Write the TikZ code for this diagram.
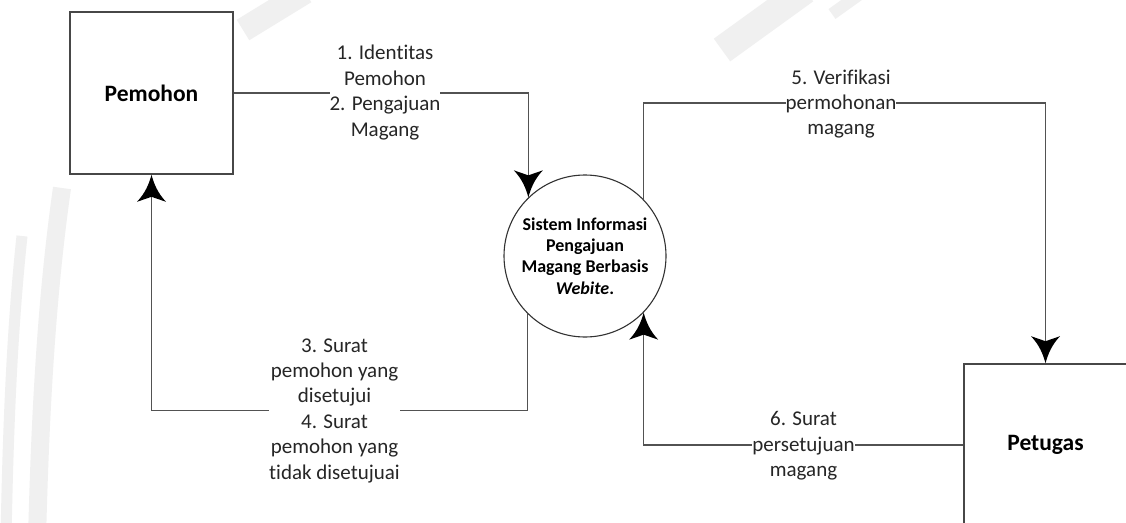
\documentclass[tikz,border=0pt]{standalone}
\usepackage{fontspec}
\setmainfont{Carlito}[Ligatures=NoCommon]
\usetikzlibrary{arrows.meta}

% Arrow head with slightly concave flanks and a notched back
\pgfdeclarearrow{
  name = DfdHead,
  setup code = {
    \pgfarrowssettipend{0pt}
    \pgfarrowssetlineend{-18pt}
    \pgfarrowssetbackend{-27pt}
    \pgfarrowsupperhullpoint{0pt}{0pt}
    \pgfarrowsupperhullpoint{-27pt}{14.5pt}
  },
  drawing code = {
    \pgfpathmoveto{\pgfqpoint{0pt}{0pt}}
    \pgfpathcurveto{\pgfqpoint{-9pt}{2.5pt}}{\pgfqpoint{-18pt}{6pt}}{\pgfqpoint{-27pt}{14.5pt}}
    \pgfpathlineto{\pgfqpoint{-22pt}{0pt}}
    \pgfpathlineto{\pgfqpoint{-27pt}{-14.5pt}}
    \pgfpathcurveto{\pgfqpoint{-18pt}{-6pt}}{\pgfqpoint{-9pt}{-2.5pt}}{\pgfqpoint{0pt}{0pt}}
    \pgfpathclose
    \pgfusepathqfill
  },
}

\tikzset{
  entity/.style={draw=black!72, line width=1.6pt, minimum width=163pt,
    minimum height=162pt, inner sep=0pt,
    font=\fontsize{23.5}{28}\selectfont\bfseries, text=black},
  process/.style={circle, draw=black!80, line width=1.1pt, minimum size=162pt,
    inner sep=0pt, align=center,
    font=\fontsize{18}{21.3}\selectfont\bfseries, text=black},
  flow/.style={draw=black!68, line width=1.4pt, -{DfdHead[color=black]}},
  flowlabel/.style={fill=white, inner xsep=0pt, inner ysep=1pt, align=center,
    font=\fontsize{21}{25.4}\selectfont, text=black!85},
  wmark/.style={draw=black!6, line cap=butt},
}

\begin{document}
\begin{tikzpicture}[x=1pt, y=-1pt]
  \useasboundingbox (0,0) rectangle (1126,522);
  \clip (0,0) rectangle (1126,522);
  \fill[white] (0,0) rectangle (1126,522);

  % faint shield watermark behind the diagram
  \draw[wmark, line width=18pt] (62,188) .. controls (46,300) and (40,420) .. (37,540);
  \draw[wmark, line width=11pt] (22,236) .. controls (12,330) and (8,430) .. (6,540);
  \draw[wmark, line width=24pt] (305,-8) -- (243,30);
  \draw[wmark, line width=28pt] (805,-10) -- (722,50);
  \draw[wmark, line width=12pt] (860,-6) -- (832,14);

  % external entities and the process
  \node[entity] (pemohon) at (151.5,93) {Pemohon};
  \node[entity] (petugas) at (1045.5,445) {Petugas};
  \node[process] (sistem) at (585,256)
    {Sistem Informasi\\Pengajuan\\Magang Berbasis\\\textit{Webite}.};

  % rows where the return flows bend
  \coordinate (row34) at (0,410.5);
  \coordinate (row5) at (0,103);

  % data flows
  \draw[flow] (pemohon.east) -| (sistem.134.7);
  \draw[flow] (sistem.225.3) |- (pemohon.south |- row34) -- (pemohon.south);
  \draw[flow] (sistem.44.7) |- (petugas.north |- row5) -- (petugas.north);
  \draw[flow] (petugas.west) -| (sistem.-44.7);

  % flow labels
  \node[flowlabel] (lab12) at (385,92.5)
    {1. Identitas\\Pemohon\\2. Pengajuan\\Magang};
  \node[flowlabel] (lab34) at (334.5,410.5)
    {3. Surat\\pemohon yang\\disetujui\\4. Surat\\pemohon yang\\tidak disetujuai};
  \node[flowlabel] (lab5) at (841,104)
    {5. Verifikasi\\permohonan\\magang};
  \node[flowlabel] (lab6) at (803.5,446)
    {6. Surat\\persetujuan\\magang};
\end{tikzpicture}
\end{document}
